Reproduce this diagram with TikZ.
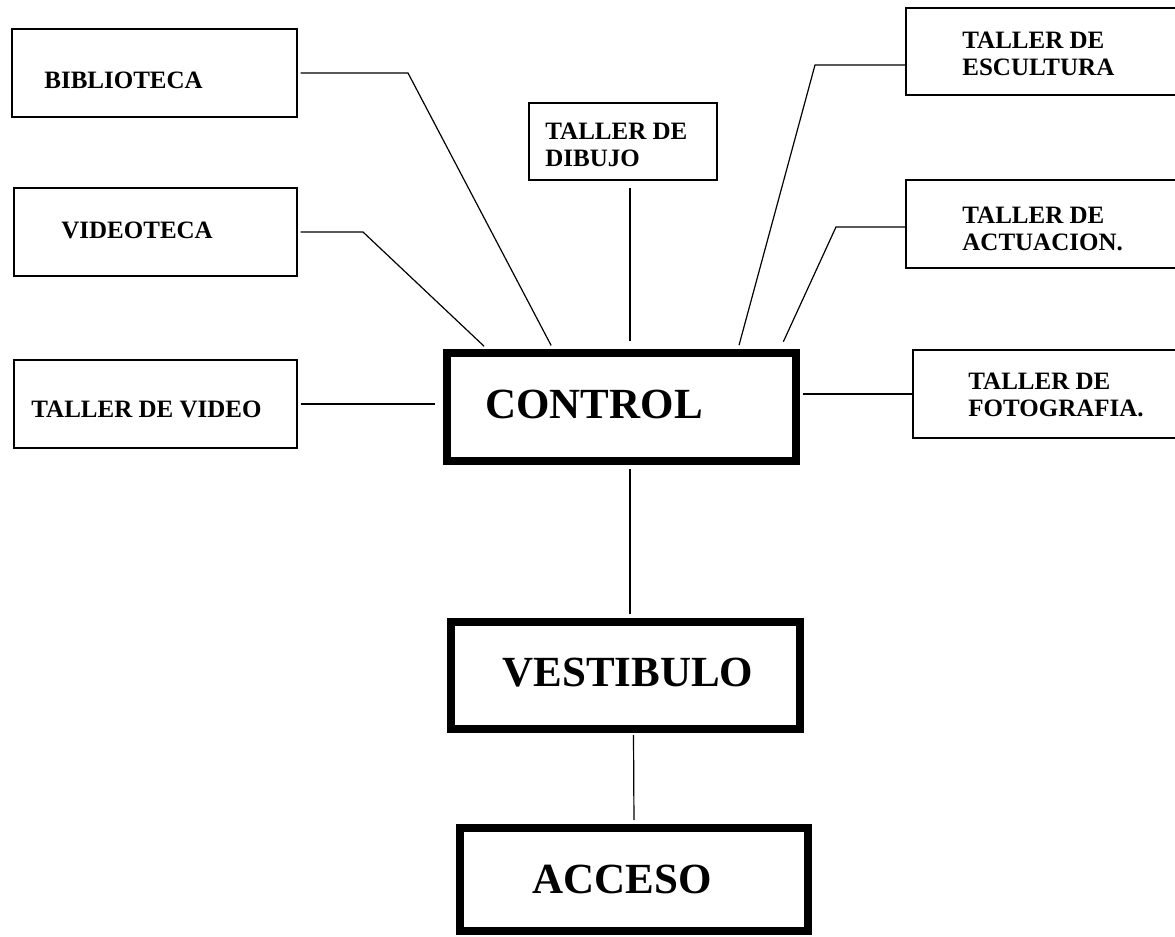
\documentclass[tikz,border=0pt]{standalone}
\usepackage{fontspec}
\setmainfont{Liberation Serif}

\begin{document}
\begin{tikzpicture}[
  x=0.5pt, y=-0.5pt,
  room/.style={draw, line width=0.6pt, inner sep=0pt},
  core/.style={draw, line width=4pt, inner sep=0pt},
  tag/.style={font=\fontsize{12.5}{13.5}\selectfont\bfseries, inner sep=0pt, align=left},
  big/.style={font=\fontsize{21.5}{24}\selectfont\bfseries, inner sep=0pt},
  link/.style={line width=0.6pt}
]
  \useasboundingbox[fill=white] (0,0) rectangle (1175,937);

  % Izquierda
  \node[room, minimum width=142.5pt, minimum height=44pt] (bib) at (154.5,73) {};
  \node[tag, anchor=base west] (bibtxt) at (44,89) {BIBLIOTECA};

  \node[room, minimum width=141.5pt, minimum height=44pt] (vid) at (155.5,232) {};
  \node[tag, anchor=base west] (vidtxt) at (61,238) {VIDEOTECA};

  \node[room, minimum width=141.5pt, minimum height=44pt] (tvid) at (155.5,404) {};
  \node[tag, anchor=base west] (tvidtxt) at (31,417) {TALLER DE VIDEO};

  % Centro arriba
  \node[room, minimum width=94pt, minimum height=38.5pt] (dib) at (623,141.5) {};
  \node[tag, anchor=north west] (dibtxt) at (545,123) {TALLER DE\\DIBUJO};

  % Derecha
  \node[room, minimum width=142pt, minimum height=43.5pt] (esc) at (1048,51.5) {};
  \node[tag, anchor=north west] (esctxt) at (962,32) {TALLER DE\\ESCULTURA};

  \node[room, minimum width=142pt, minimum height=44pt] (act) at (1048,224) {};
  \node[tag, anchor=north west] (acttxt) at (962,207) {TALLER DE\\ACTUACION.};

  \node[room, minimum width=138.5pt, minimum height=44pt] (foto) at (1051.5,394) {};
  \node[tag, anchor=north west] (fototxt) at (968,373) {TALLER DE\\FOTOGRAFIA.};

  % Eje central
  \node[core, minimum width=174.5pt, minimum height=54pt] (ctrl) at (621.5,407) {};
  \node[big, anchor=base west] (ctrltxt) at (485,418) {CONTROL};

  \node[core, minimum width=174.5pt, minimum height=53.5pt] (vest) at (625.5,675.5) {};
  \node[big, anchor=base west] (vesttxt) at (502,686) {VESTIBULO};

  \node[core, minimum width=174pt, minimum height=51.5pt] (acc) at (634,879.5) {};
  \node[big, anchor=base west] (acctxt) at (532,893) {ACCESO};

  % Quiebres
  \coordinate (kb) at (408,73);
  \coordinate (kv) at (363,232);
  \coordinate (ke) at (815,65);
  \coordinate (ka) at (836,227);

  % Lineas
  \draw[link, shorten <=1.5pt, shorten >=2pt] (bib.east) -- (kb) -- ([shift={(-68.5,0)}]ctrl.north);
  \draw[link, shorten <=1.5pt, shorten >=2pt] (vid.east) -- (kv) -- ([shift={(-134.5,0)}]ctrl.north);
  \draw[link, shorten <=1.5pt, shorten >=4pt] (tvid.east) -- (ctrl.west |- tvid.east);
  \draw[link, shorten <=3.5pt, shorten >=4pt] ([shift={(7,0)}]dib.south) -- ([shift={(8.5,0)}]ctrl.north);
  \draw[link, shorten >=2pt] (esc.west |- ke) -- (ke) -- ([shift={(116.5,0)}]ctrl.north);
  \draw[link, shorten >=4pt] (act.west |- ka) -- (ka) -- ([shift={(158.5,0)}]ctrl.north);
  \draw[link, shorten <=1.5pt] (ctrl.east |- foto.west) -- (foto.west);
  \draw[link, shorten <=2pt, shorten >=2pt] ([shift={(8.5,0)}]ctrl.south) -- ([shift={(4.5,0)}]vest.north);
  \draw[link, shorten <=1pt, shorten >=2pt] ([shift={(8,0)}]vest.south) -- (acc.north);
\end{tikzpicture}
\end{document}
